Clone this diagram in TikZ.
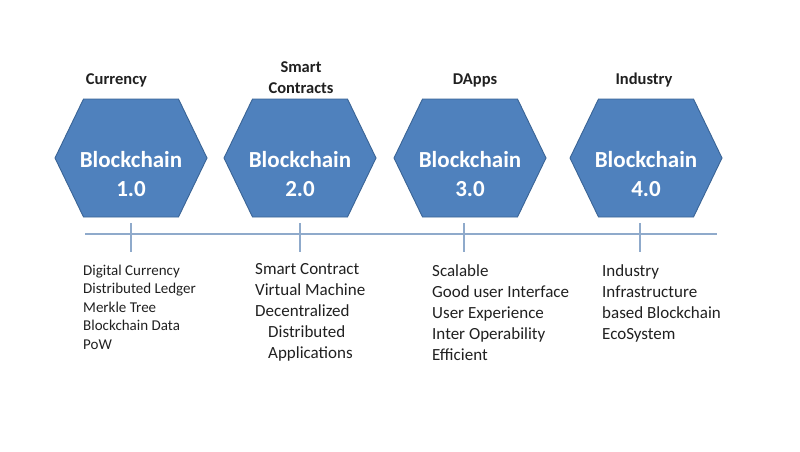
\documentclass[tikz,border=0pt]{standalone}
\usepackage{fontspec}
\setmainfont{Carlito}
\usetikzlibrary{positioning, calc}

\definecolor{hexblue}{HTML}{4F81BD}
\definecolor{hexedge}{HTML}{3A6495}
\definecolor{axisblue}{HTML}{8FAACB}
\definecolor{inkgray}{HTML}{202020}

\tikzset{
  hexbox/.style={fill=hexblue, draw=hexedge, line width=0.9pt, line join=miter},
  hextext/.style={text=white, align=center, inner sep=0pt,
    font=\fontsize{23}{29}\selectfont\bfseries},
  eratitle/.style={text=inkgray, align=center, inner sep=0pt,
    font=\fontsize{16.5}{21}\selectfont\bfseries},
  featlist/.style={text=inkgray, align=left, anchor=north west, inner sep=0pt},
}

\begin{document}
\begin{tikzpicture}[x=1pt, y=-1pt]
    \useasboundingbox (0,0) rectangle (800,452);

    % Hexagons with their era labels
    \foreach \n/\cx/\v in {1/131/1.0, 2/300/2.0, 3/470/3.0, 4/646/4.0} {
        \draw[hexbox] (\cx-76,158) -- (\cx-47.5,99) -- (\cx+47.5,99)
            -- (\cx+76,158) -- (\cx+47.5,217) -- (\cx-47.5,217) -- cycle;
        \node[hextext] (hex\n) at (\cx,174) {Blockchain\\\v};
    }

    % Titles above
    \node[eratitle] (title1) at (116.5,80) {Currency};
    \node[eratitle] (title2) at (301,78) {Smart\\Contracts};
    \node[eratitle] (title3) at (475,80) {DApps};
    \node[eratitle] (title4) at (644,80) {Industry};

    % Time line and ticks
    \coordinate (lineW) at (85,234);
    \coordinate (lineE) at (717,234);
    \draw[axisblue, line width=1.2pt] (lineW) -- (lineE);
    \foreach \n/\x in {1/131, 2/300, 3/464, 4/640} {
        \coordinate (tickT\n) at (\x,223);
        \coordinate (tickB\n) at (\x,252);
        \draw[axisblue, line width=1.2pt] (tickT\n) -- (tickB\n);
    }

    % Feature lists
    \node[featlist, font=\fontsize{15}{18.5}\selectfont] (feat1) at (83,264.5)
        {Digital Currency\\Distributed Ledger\\Merkle Tree\\Blockchain Data\\PoW};
    \node[featlist, font=\fontsize{17}{21}\selectfont] (feat2) at (255,263.5)
        {Smart Contract\\Virtual Machine\\Decentralized\\\hspace*{13pt}Distributed\\\hspace*{13pt}Applications};
    \node[featlist, font=\fontsize{17}{21}\selectfont] (feat3) at (432,264)
        {Scalable\\Good user Interface\\User Experience\\Inter Operability\\Efficient};
    \node[featlist, font=\fontsize{17}{21}\selectfont] (feat4) at (602,264)
        {Industry\\Infrastructure\\based Blockchain\\EcoSystem};

\end{tikzpicture}
\end{document}
